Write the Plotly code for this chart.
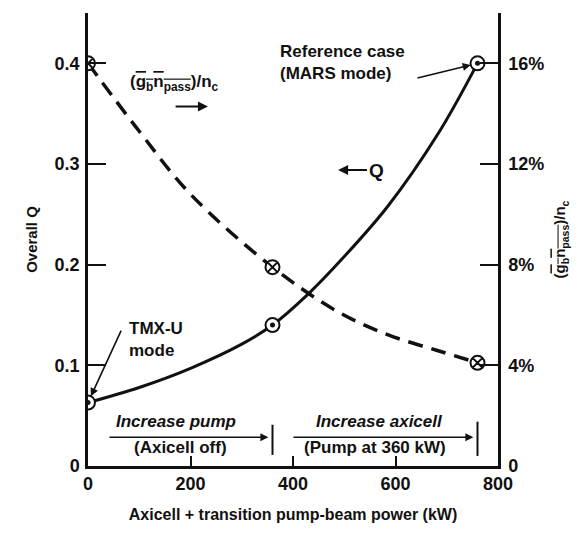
import plotly.graph_objects as go

# Operating points: TMX-U mode, end of pump ramp, reference (MARS) case
power_kw = [0, 360, 760]
overall_q = [0.063, 0.140, 0.400]
pass_frac = [16.0, 7.9, 4.1]          # (g_b n_pass)/n_c in percent

# Points
q_curve_x = [0, 100, 200, 300, 360, 430, 500, 585, 683, 760]
q_curve_y = [0.063, 0.078, 0.097, 0.121, 0.140, 0.171, 0.208, 0.258, 0.330, 0.400]
f_curve_x = [0, 100, 200, 360, 490, 587, 680, 760]
f_curve_y = [16.0, 13.3, 10.8, 7.9, 6.1, 5.2, 4.6, 4.1]

left_ticks = [0, 0.1, 0.2, 0.3, 0.4]
left_labels = ["0", "0.1", "0.2", "0.3", "0.4"]
right_ticks = [0, 4, 8, 12, 16]
right_labels = ["0", "4%", "8%", "12%", "16%"]
x_ticks = [0, 200, 400, 600, 800]

FONT = "Liberation Sans"
BLACK = "#111111"

fig = go.Figure()

fig.add_trace(go.Scatter(x=q_curve_x, y=q_curve_y, mode="lines",
                         line=dict(color=BLACK, width=3, shape="spline"),
                         hoverinfo="skip", showlegend=False))
fig.add_trace(go.Scatter(x=f_curve_x, y=f_curve_y, mode="lines", yaxis="y2",
                         line=dict(color=BLACK, width=3.5, dash="15px,9px", shape="spline"),
                         hoverinfo="skip", showlegend=False))
# Q points: open circle with a solid centre dot
fig.add_trace(go.Scatter(x=power_kw, y=overall_q, mode="markers", name="Q",
                         marker=dict(symbol="circle", size=14, color="white",
                                     line=dict(color=BLACK, width=2)),
                         showlegend=False))
fig.add_trace(go.Scatter(x=power_kw, y=overall_q, mode="markers",
                         marker=dict(symbol="circle", size=5, color=BLACK),
                         hoverinfo="skip", showlegend=False))
# passing-fraction points: circled cross
fig.add_trace(go.Scatter(x=power_kw, y=pass_frac, mode="markers", yaxis="y2",
                         marker=dict(symbol="circle-x", size=14, color="white",
                                     line=dict(color=BLACK, width=2)),
                         showlegend=False))

tick_font = dict(family=FONT, size=18, color=BLACK, weight="bold")
lbl_font = dict(family=FONT, size=17, color=BLACK, weight="bold")
arrow_style = dict(showarrow=True, arrowhead=2, arrowsize=1, arrowcolor=BLACK,
                   xref="x", yref="y", axref="x", ayref="y", text="")

annotations = [
    # label for the dashed curve, with a right-pointing arrow
    dict(x=168, y=0.380, xref="x", yref="y", showarrow=False,
         text="(<span style='text-decoration:overline'>g<sub>b</sub>n<sub>pass</sub></span>)/n<sub>c</sub>",
         font=lbl_font),
    dict(x=234, y=0.357, ax=168, ay=0.357, arrowwidth=2, **arrow_style),
    # label for the solid curve, with a left-pointing arrow
    dict(x=488, y=0.294, ax=562, ay=0.294, xref="x", yref="y", axref="x", ayref="y",
         text="Q", showarrow=True, arrowhead=2, arrowsize=1, arrowwidth=2,
         arrowcolor=BLACK, font=dict(family=FONT, size=19, color=BLACK, weight="bold")),
    # reference case call-out
    dict(x=371, y=0.401, xref="x", yref="y", xanchor="left", showarrow=False, align="left",
         text="Reference case<br>(MARS mode)", font=lbl_font),
    dict(x=power_kw[2], y=overall_q[2], ax=640, ay=0.385, arrowwidth=1.6,
         standoff=7, **arrow_style),
    # TMX-U call-out
    dict(x=76, y=0.126, xref="x", yref="y", xanchor="left", showarrow=False, align="left",
         text="TMX-U<br>mode", font=lbl_font),
    dict(x=power_kw[0], y=overall_q[0], ax=66, ay=0.136, arrowwidth=1.6,
         standoff=7, **arrow_style),
    # scan ranges along the bottom
    dict(x=172, y=0.044, xref="x", yref="y", showarrow=False,
         text="<i>Increase pump</i>", font=lbl_font),
    dict(x=power_kw[1] - 8, y=0.0285, ax=39, ay=0.0285, arrowwidth=1.6, **arrow_style),
    dict(x=180, y=0.0185, xref="x", yref="y", showarrow=False,
         text="(Axicell off)", font=lbl_font),
    dict(x=568, y=0.044, xref="x", yref="y", showarrow=False,
         text="<i>Increase axicell</i>", font=lbl_font),
    dict(x=power_kw[2] - 8, y=0.0285, ax=398, ay=0.0285, arrowwidth=1.6, **arrow_style),
    dict(x=560, y=0.0185, xref="x", yref="y", showarrow=False,
         text="(Pump at 360 kW)", font=lbl_font),
]

shapes = [
    dict(type="line", xref="x", yref="y", x0=power_kw[1], x1=power_kw[1],
         y0=0.011, y1=0.041, line=dict(color=BLACK, width=2)),
    dict(type="line", xref="x", yref="y", x0=power_kw[2], x1=power_kw[2],
         y0=0.010, y1=0.044, line=dict(color=BLACK, width=2)),
]

fig.update_layout(
    width=587, height=534,
    margin=dict(l=88, r=89, t=13, b=62),
    paper_bgcolor="white", plot_bgcolor="white",
    showlegend=False,
    font=dict(family=FONT, color=BLACK),
    xaxis=dict(range=[0, 800], tickvals=x_ticks, ticks="inside", ticklen=10,
               tickwidth=2, tickcolor=BLACK, showline=True, linecolor=BLACK,
               linewidth=2.5, showgrid=False, zeroline=False, tickfont=tick_font,
               title=dict(text="Axicell + transition pump-beam power (kW)",
                          font=dict(family=FONT, size=16, color=BLACK, weight="bold"),
                          standoff=16)),
    xaxis2=dict(range=[0, 800], overlaying="x", side="top", anchor="y",
                tickvals=[200, 400, 600], ticks="inside", ticklen=17, tickwidth=2,
                tickcolor=BLACK, showline=True, linecolor=BLACK, linewidth=2.5,
                showticklabels=False, showgrid=False, zeroline=False),
    yaxis=dict(range=[0, 0.45], tickvals=left_ticks, ticktext=left_labels,
               ticks="inside", ticklen=18, tickwidth=2, tickcolor=BLACK,
               showline=True, linecolor=BLACK, linewidth=2.5, showgrid=False,
               zeroline=False, tickfont=tick_font, ticklabelstandoff=2,
               title=dict(text="Overall Q",
                          font=dict(family=FONT, size=15, color=BLACK, weight="bold"),
                          standoff=14)),
    yaxis2=dict(range=[0, 18], overlaying="y", side="right", anchor="x",
                tickvals=right_ticks, ticktext=right_labels, ticks="inside",
                ticklen=18, tickwidth=2, tickcolor=BLACK, showline=True,
                linecolor=BLACK, linewidth=2.5, showgrid=False, zeroline=False,
                tickfont=tick_font, ticklabelstandoff=4,
                title=dict(text="(<span style='text-decoration:overline'>g<sub>b</sub>n<sub>pass</sub></span>)/n<sub>c</sub>",
                           font=dict(family=FONT, size=15, color=BLACK, weight="bold"),
                           standoff=12)),
    annotations=annotations,
    shapes=shapes,
)

fig.write_html("out.html")
